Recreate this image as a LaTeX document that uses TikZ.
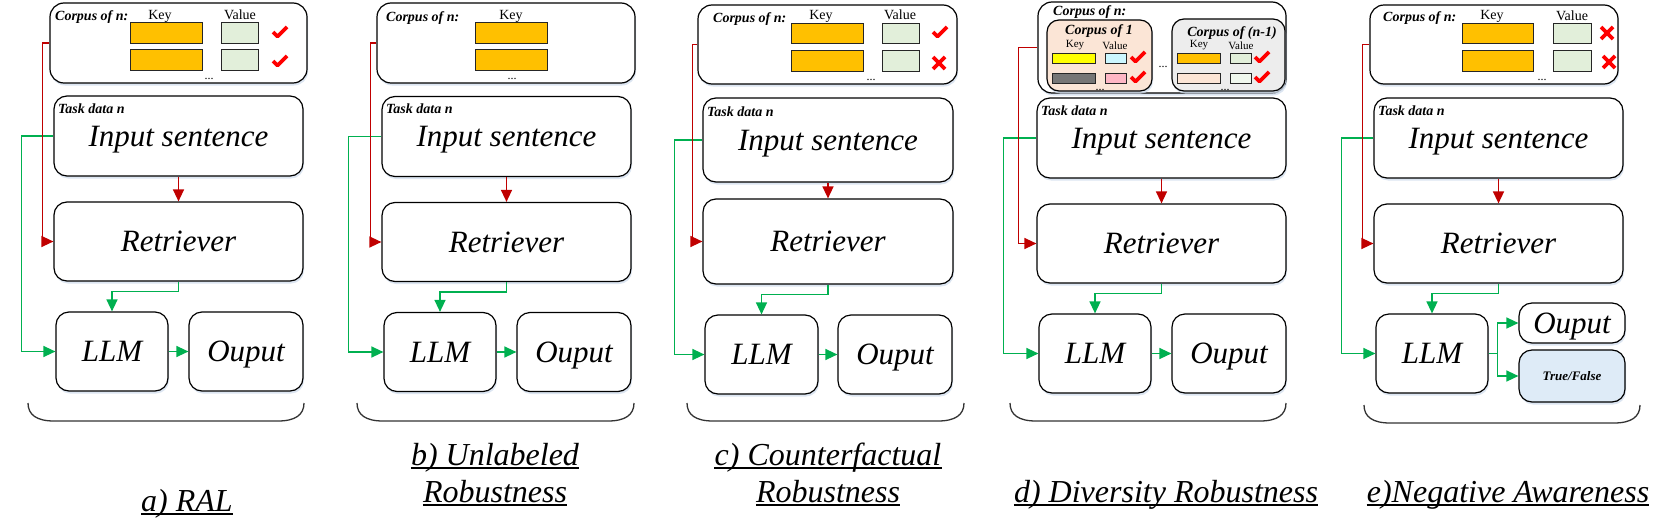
\documentclass[tikz,border=0pt]{standalone}
\usepackage{fontspec}
\setmainfont{Liberation Serif}
\usetikzlibrary{arrows.meta,shadows}
\definecolor{cred}{HTML}{C00000}
\definecolor{cgreen}{HTML}{00B050}
\definecolor{korange}{HTML}{FFC000}
\definecolor{vgreen}{HTML}{E2EFDA}
\definecolor{bright}{HTML}{FF0000}
\definecolor{tfblue}{HTML}{DEEBF7}
\definecolor{peach}{HTML}{FBE5D6}
\definecolor{lgray}{HTML}{EDEDED}
\definecolor{kyellow}{HTML}{FFFF00}
\definecolor{kgray}{HTML}{767676}
\definecolor{vcyan}{HTML}{CCF7FF}
\definecolor{vpink}{HTML}{FFB7C5}
\definecolor{vpale}{HTML}{F0F8EE}
\definecolor{shd}{HTML}{D3DFEE}
\newcommand\bx[7]{\node[#1, minimum width={(#5-#3)*1pt}, minimum height={(#6-#4)*1pt}] (#2) at ({(#3+#5)/2},{(#4+#6)/2}) {#7};}
\newcommand\chk[2]{\draw[chkline] ({#1-7},{#2}) -- ({#1-2.5},{#2+4.5}) -- ({#1+7},{#2-5});}
\newcommand\crs[2]{\draw[chkline] ({#1-6},{#2-6}) -- ({#1+6},{#2+6}) ({#1-6},{#2+6}) -- ({#1+6},{#2-6});}
\newcommand\brc[3]{\draw[bracel] (#1,#3) .. controls (#1,{#3+12}) and ({#1+9},{#3+18}) .. ({#1+26},{#3+18}) -- ({#2-26},{#3+18}) .. controls ({#2-9},{#3+18}) and (#2,{#3+12}) .. (#2,#3);}
% boxes of the lower part: prefix, dx, dy
\newcommand\lowboxes[3]{%
\begin{scope}[shift={(#2,#3)}]
\bx{bigbox}{#1t}{54}{96}{303}{176}{Input sentence}
\node[bi] (#1td) at (58,113) {Task data n};
\bx{bigbox}{#1r}{54}{202}{303}{281}{Retriever}
\bx{bigbox}{#1l}{56}{312}{168}{391}{LLM}
\end{scope}}
% connectors of the lower part: prefix, red offset, green offset
\newcommand\lowconn[3]{%
\draw[gline] (#1t.west) -- ++(#3,0) |- (#1l.west);
\draw[rline] (#1c.west) -- ([xshift=#2pt]#1t.west |- #1c.west) |- (#1r.west);
\draw[rline] (#1t.south) -- (#1r.north);
\draw[gline] (#1r.south) -- ++(0,10) -| (#1l.north);
}
\newcommand\outpart[3]{%
\begin{scope}[shift={(#2,#3)}]
\bx{bigbox}{#1o}{189}{312}{303}{391}{Ouput}
\end{scope}
\draw[gline] (#1l.east) -- (#1o.west);
}
\begin{document}
\begin{tikzpicture}[x=1pt,y=-1pt,
 every node/.style={inner sep=0pt},
 box/.style={draw=black, line width=1.2pt, rounded corners=13pt, fill=white, drop shadow={shadow xshift=1pt,shadow yshift=-2.5pt,fill=shd,opacity=0.8}},
 bigbox/.style={box, font=\fontsize{31}{36}\selectfont\itshape, text height=20.5pt, text depth=0pt},
 cbox/.style={box, rounded corners=14pt},
 sm/.style={font=\fontsize{14}{16}\selectfont, anchor=base},
 smd/.style={font=\fontsize{11}{12}\selectfont, anchor=base},
 bi/.style={font=\fontsize{14}{16}\selectfont\bfseries\itshape, anchor=base west},
 bic/.style={font=\fontsize{14}{16}\selectfont\bfseries\itshape, anchor=base},
 dots/.style={font=\fontsize{12}{12}\selectfont, anchor=base},
 keyr/.style={draw=black!85, line width=1pt, fill=korange},
 valr/.style={draw=black!85, line width=1pt, fill=vgreen},
 chkline/.style={draw=bright, line width=3.6pt, line cap=butt, line join=round},
 rline/.style={draw=cred, line width=1.4pt, -{Triangle[length=12pt,width=11pt]}},
 gline/.style={draw=cgreen, line width=1.4pt, -{Triangle[length=12pt,width=11pt]}},
 bracel/.style={draw=black!80, line width=1.3pt},
 lab/.style={font=\fontsize{32}{36}\selectfont\itshape, anchor=base},
 uline/.style={draw=black, line width=1.3pt}]
\useasboundingbox (0,0) rectangle (1661,522);

% ---------- panel a ----------
\bx{cbox}{ac}{50}{3}{307}{83}{}
\node[bi] (acl) at (55,20) {Corpus of n:};
\node[sm] (akl) at (160,19) {Key};
\node[sm] (avl) at (240,19) {Value};
\bx{keyr}{ak1}{130}{22}{202}{43}{}
\bx{keyr}{ak2}{130}{49}{202}{70}{}
\bx{valr}{av1}{221}{22}{258}{43}{}
\bx{valr}{av2}{221}{49}{258}{70}{}
\chk{280}{32}
\chk{280}{61}
\node[dots] (ad) at (209,79) {...};
\lowboxes{a}{0}{0}
\lowconn{a}{-11}{-32}
\outpart{a}{0}{0}
\brc{28}{304}{403}
\node[lab] (alab) at (187,511) {a) RAL};
\draw[uline] ([yshift=-3pt]alab.base west) -- ([yshift=-3pt]alab.base east);

% ---------- panel b ----------
\bx{cbox}{bc}{377}{3}{635}{83}{}
\node[bi] (bcl) at (386,21) {Corpus of n:};
\node[sm] (bkl) at (511,19) {Key};
\bx{keyr}{bk1}{475}{22}{547}{43}{}
\bx{keyr}{bk2}{475}{49}{547}{70}{}
\node[dots] (bd) at (512,79) {...};
\lowboxes{b}{328}{0.5}
\lowconn{b}{-11}{-33}
\outpart{b}{328}{0.5}
\brc{357}{634}{403}
\node[lab] (blab1) at (495,465) {b) Unlabeled};
\draw[uline] ([yshift=-3pt]blab1.base west) -- ([yshift=-3pt]blab1.base east);
\node[lab] (blab2) at (495,502) {Robustness};
\draw[uline] ([yshift=-3pt]blab2.base west) -- ([yshift=-3pt]blab2.base east);

% ---------- panel c ----------
\bx{cbox}{cc}{698}{5}{957}{84}{}
\node[bi] (ccl) at (713,22) {Corpus of n:};
\node[sm] (ckl) at (821,19) {Key};
\node[sm] (cvl) at (900,19) {Value};
\bx{keyr}{ck1}{791}{23}{863}{43}{}
\bx{keyr}{ck2}{791}{50}{863}{71}{}
\bx{valr}{cv1}{882}{23}{919}{43}{}
\bx{valr}{cv2}{882}{50}{919}{71}{}
\chk{940}{32}
\crs{939}{63}
\node[dots] (cd) at (871,80) {...};
\bx{bigbox}{ct}{703}{98}{953}{182}{Input sentence}
\node[bi] (ctd) at (707,116) {Task data n};
\bx{bigbox}{cr}{703}{199}{953}{284}{Retriever}
\bx{bigbox}{cl}{705}{315}{818}{394}{LLM}
\lowconn{c}{-10}{-28}
\bx{bigbox}{co}{838}{315}{952}{394}{Ouput}
\draw[gline] (cl.east) -- (co.west);
\brc{687}{964}{403}
\node[lab] (clab1) at (828,465) {c) Counterfactual};
\draw[uline] ([yshift=-3pt]clab1.base west) -- ([yshift=-3pt]clab1.base east);
\node[lab] (clab2) at (828,502) {Robustness};
\draw[uline] ([yshift=-3pt]clab2.base west) -- ([yshift=-3pt]clab2.base east);

% ---------- panel d ----------
\bx{cbox}{dc}{1038}{2}{1286}{93}{}
\node[bi] (dcl) at (1053,16) {Corpus of n:};
\bx{cbox, fill=peach, rounded corners=12pt}{dc1}{1047}{20}{1152}{91}{}
\bx{cbox, fill=lgray, rounded corners=12pt}{dc2}{1172}{19}{1285}{91}{}
\node[bic] (dc1l) at (1099,34) {Corpus of 1};
\node[bic] (dc2l) at (1232,36) {Corpus of (n-1)};
\node[smd] (dk1l) at (1075,47) {Key};
\node[smd] (dv1l) at (1115,49) {Value};
\node[smd] (dk2l) at (1199,47) {Key};
\node[smd] (dv2l) at (1241,49) {Value};
\bx{keyr, fill=kyellow}{dk11}{1052}{53}{1095}{63}{}
\bx{keyr, fill=kgray}{dk12}{1052}{73}{1095}{83}{}
\bx{valr, fill=vcyan}{dv11}{1105}{53}{1126}{63}{}
\bx{valr, fill=vpink}{dv12}{1105}{73}{1126}{83}{}
\chk{1138}{57}
\chk{1138}{77}
\bx{keyr}{dk21}{1177}{53}{1220}{63}{}
\bx{keyr, fill=peach}{dk22}{1177}{73}{1220}{83}{}
\bx{valr}{dv21}{1230}{53}{1251}{63}{}
\bx{valr, fill=vpale}{dv22}{1230}{73}{1251}{83}{}
\chk{1262}{57}
\chk{1262}{77}
\node[dots] (dd1) at (1163,67) {...};
\node[dots] (dd2) at (1100,90) {...};
\node[dots] (dd3) at (1225,90) {...};
\lowboxes{d}{983}{2}
\lowconn{d}{-18}{-33}
\outpart{d}{983}{2}
\brc{1010}{1286}{403}
\node[lab] (dlab) at (1166,502) {d) Diversity Robustness};
\draw[uline] ([yshift=-3pt]dlab.base west) -- ([yshift=-3pt]dlab.base east);

% ---------- panel e ----------
\bx{cbox}{ec}{1370}{5}{1618}{84}{}
\node[bi] (ecl) at (1383,21) {Corpus of n:};
\node[sm] (ekl) at (1492,19) {Key};
\node[sm] (evl) at (1572,20) {Value};
\bx{keyr}{ek1}{1462}{23}{1533}{43}{}
\bx{keyr}{ek2}{1462}{50}{1533}{71}{}
\bx{valr}{ev1}{1553}{23}{1591}{43}{}
\bx{valr}{ev2}{1553}{50}{1591}{71}{}
\crs{1607}{33}
\crs{1609}{62}
\node[dots] (ed) at (1542,80) {...};
\lowboxes{e}{1320}{2}
\lowconn{e}{-11}{-32}
\bx{bigbox}{eo}{1519}{303}{1625}{343}{Ouput}
\bx{box, fill=tfblue, font=\fontsize{13}{14}\selectfont\bfseries\itshape}{etf}{1519}{350}{1625}{402}{True/False}
\draw[gline] (el.east) -- ++(9,0) |- (eo.west);
\draw[gline] (el.east) -- ++(9,0) |- (etf.west);
\brc{1364}{1640}{405}
\node[lab] (elab) at (1508,502) {e)Negative Awareness};
\draw[uline] ([yshift=-3pt]elab.base west) -- ([yshift=-3pt]elab.base east);
\end{tikzpicture}
\end{document}
